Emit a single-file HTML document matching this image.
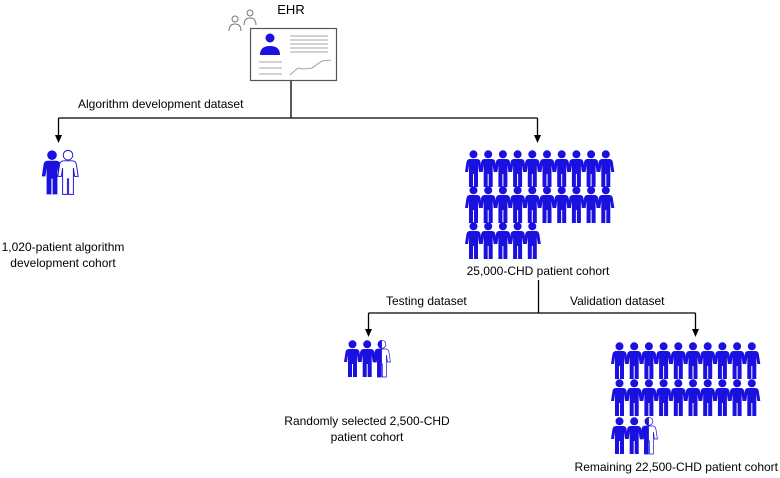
<!DOCTYPE html>
<html><head><style>
html,body{margin:0;padding:0;background:#fff;}
svg{display:block;font-family:"Liberation Sans",Arial,sans-serif;}
</style></head><body>
<svg width="780" height="478" viewBox="0 0 780 478" xmlns="http://www.w3.org/2000/svg">
<defs>
<g id="p"><circle cx="7.5" cy="4.3" r="4"/><path d="M4,9 h7 q3,0 3.5,3 l1.5,10 h-3 l-1,-7 v22 h-4 v-13 h-1 v13 h-4 v-22 l-1,7 h-3 l1.5,-10 q0.5,-3 3.5,-3z"/></g>
<clipPath id="half"><rect x="-2" y="0" width="9.5" height="40"/></clipPath>
</defs>
<!-- EHR -->
<text x="291" y="14" font-size="13" text-anchor="middle">EHR</text>
<g fill="none" stroke="#777" stroke-width="1">
<circle cx="235" cy="19" r="3"/><path d="M229,31 q0,-7 6,-7 q6,0 6,7"/>
<circle cx="250" cy="13" r="3"/><path d="M244,25 q0,-7 6,-7 q6,0 6,7"/>
</g>
<rect x="250.5" y="28.5" width="86" height="52" fill="#fff" stroke="#555" stroke-width="1.2"/>
<circle cx="270" cy="38" r="4.5" fill="#1a10e0"/>
<path d="M260,55 q0,-9 10,-9 q10,0 10,9z" fill="#1a10e0"/>
<g stroke="#888" stroke-width="0.8">
<line x1="290" y1="36" x2="328" y2="36"/><line x1="290" y1="40" x2="328" y2="40"/><line x1="290" y1="44" x2="328" y2="44"/><line x1="290" y1="48" x2="328" y2="48"/><line x1="290" y1="52" x2="328" y2="52"/>
<line x1="259" y1="62" x2="282" y2="62"/><line x1="259" y1="68" x2="282" y2="68"/><line x1="259" y1="74" x2="282" y2="74"/>
<polyline fill="none" points="290,75 298,68 304,69 312,68 322,61 331,60"/>
</g>
<!-- connectors -->
<g stroke="#000" stroke-width="1.3" fill="none">
<line x1="291" y1="81" x2="291" y2="118"/>
<line x1="58.5" y1="118" x2="537.5" y2="118"/>
<line x1="58.5" y1="118" x2="58.5" y2="136"/>
<line x1="537.5" y1="118" x2="537.5" y2="136"/>
<line x1="538.5" y1="280" x2="538.5" y2="313"/>
<line x1="368.5" y1="313" x2="695.5" y2="313"/>
<line x1="368.5" y1="313" x2="368.5" y2="330"/>
<line x1="695.5" y1="313" x2="695.5" y2="330"/>
</g>
<g fill="#000">
<path d="M55,135 L62,135 L58.5,143 z"/>
<path d="M534,135 L541,135 L537.5,143 z"/>
<path d="M365,329 L372,329 L368.5,337 z"/>
<path d="M692,329 L699,329 L695.5,337 z"/>
</g>
<g font-size="12" fill="#000">
<text x="78" y="108">Algorithm development dataset</text>
<text x="63" y="251" text-anchor="middle">1,020-patient algorithm</text>
<text x="63" y="267" text-anchor="middle">development cohort</text>
<text x="538" y="275" text-anchor="middle">25,000-CHD patient cohort</text>
<text x="386" y="305">Testing dataset</text>
<text x="570" y="305">Validation dataset</text>
<text x="367" y="425" text-anchor="middle">Randomly selected 2,500-CHD</text>
<text x="367" y="441" text-anchor="middle">patient cohort</text>
<text x="778" y="471" text-anchor="end">Remaining 22,500-CHD patient cohort</text>
</g>
<!-- left pair -->
<g fill="#1a10e0">
<use href="#p" transform="translate(43,150) scale(1.2)"/>
</g>
<use href="#p" transform="translate(59,150) scale(1.2)" fill="#fff" stroke="#1a10e0" stroke-width="0.8"/>
<!-- big group -->
<g fill="#1a10e0">
<use href="#p" x="466" y="150"/><use href="#p" x="480.7" y="150"/><use href="#p" x="495.4" y="150"/><use href="#p" x="510.1" y="150"/><use href="#p" x="524.8" y="150"/><use href="#p" x="539.5" y="150"/><use href="#p" x="554.2" y="150"/><use href="#p" x="568.9" y="150"/><use href="#p" x="583.6" y="150"/><use href="#p" x="598.3" y="150"/>
<use href="#p" x="466" y="186"/><use href="#p" x="480.7" y="186"/><use href="#p" x="495.4" y="186"/><use href="#p" x="510.1" y="186"/><use href="#p" x="524.8" y="186"/><use href="#p" x="539.5" y="186"/><use href="#p" x="554.2" y="186"/><use href="#p" x="568.9" y="186"/><use href="#p" x="583.6" y="186"/><use href="#p" x="598.3" y="186"/>
<use href="#p" x="466" y="222"/><use href="#p" x="480.7" y="222"/><use href="#p" x="495.4" y="222"/><use href="#p" x="510.1" y="222"/><use href="#p" x="524.8" y="222"/>
<!-- bottom right -->
<use href="#p" x="612" y="342"/><use href="#p" x="626.7" y="342"/><use href="#p" x="641.4" y="342"/><use href="#p" x="656.1" y="342"/><use href="#p" x="670.8" y="342"/><use href="#p" x="685.5" y="342"/><use href="#p" x="700.2" y="342"/><use href="#p" x="714.9" y="342"/><use href="#p" x="729.6" y="342"/><use href="#p" x="744.3" y="342"/>
<use href="#p" x="612" y="379"/><use href="#p" x="626.7" y="379"/><use href="#p" x="641.4" y="379"/><use href="#p" x="656.1" y="379"/><use href="#p" x="670.8" y="379"/><use href="#p" x="685.5" y="379"/><use href="#p" x="700.2" y="379"/><use href="#p" x="714.9" y="379"/><use href="#p" x="729.6" y="379"/><use href="#p" x="744.3" y="379"/>
<use href="#p" x="612" y="417"/><use href="#p" x="626.7" y="417"/>
<!-- middle -->
<use href="#p" x="345" y="340"/><use href="#p" x="359.7" y="340"/>
</g>
<g transform="translate(641.4,417)">
<use href="#p" fill="#fff" stroke="#1a10e0" stroke-width="0.7"/>
<g clip-path="url(#half)" fill="#1a10e0"><use href="#p"/></g>
</g>
<g transform="translate(374.4,340)">
<use href="#p" fill="#fff" stroke="#1a10e0" stroke-width="0.7"/>
<g clip-path="url(#half)" fill="#1a10e0"><use href="#p"/></g>
</g>
</svg>
</body></html>
